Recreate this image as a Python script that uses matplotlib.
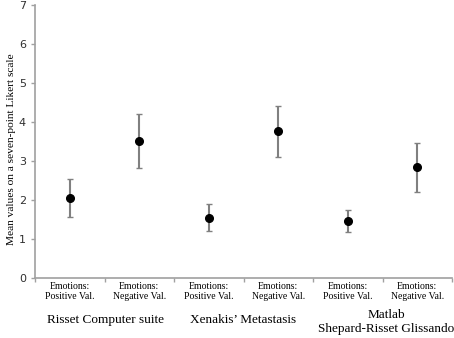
import numpy as np
import matplotlib.pyplot as plt
from matplotlib.transforms import blended_transform_factory

# data
conditions = ['Emotions:\nPositive Val.', 'Emotions:\nNegative Val.'] * 3
means = [2.04, 3.50, 1.54, 3.77, 1.45, 2.85]
upper = [2.53, 4.20, 1.90, 4.41, 1.74, 3.47]
lower = [1.56, 2.81, 1.20, 3.11, 1.18, 2.21]
groups = ['Risset Computer suite', 'Xenakis\u2019 Metastasis', 'Matlab\nShepard-Risset Glissando']

x = np.arange(len(means))
m = np.array(means)
yerr = [m - np.array(lower), np.array(upper) - m]

fig = plt.figure(figsize=(4.54, 3.38), dpi=100)
ax = fig.add_axes([35/454, 60.3/338, 417/454, 272.5/338])

ax.errorbar(x, m, yerr=yerr, fmt='o', color='black', ms=5.5,
            ecolor='#808080', elinewidth=1.5, capsize=2, capthick=1)

ax.set_xlim(-0.5, 5.5)
ax.set_ylim(0, 7)
ax.set_yticks(range(8))
ax.tick_params(axis='y', labelsize=8, labelcolor='#303030', color='#a0a0a0',
               length=3, width=1)
ax.set_xticks(x)
ax.set_xticklabels(conditions, family='Liberation Serif', fontsize=7)
ax.tick_params(axis='x', which='major', length=0, pad=3)
ax.set_xticks(np.arange(-0.5, 6, 1), minor=True)
ax.tick_params(axis='x', which='minor', length=3, color='#a0a0a0', width=1)

for s in ['top', 'right']:
    ax.spines[s].set_visible(False)
for s in ['left', 'bottom']:
    ax.spines[s].set_color('#a0a0a0')
    ax.spines[s].set_linewidth(1.2)

ax.set_ylabel('Mean values on a seven-point Likert scale',
              family='Liberation Serif', fontsize=8.2)
ax.yaxis.set_label_coords(-0.045, 0.47)

trans = blended_transform_factory(ax.transData, fig.transFigure)
group_x = [0.51, 2.49, 4.55]
group_y = [1 - 320/338, 1 - 320/338, 1 - 322/338]
for gx, gy, g in zip(group_x, group_y, groups):
    ax.text(gx, gy, g, transform=trans, ha='center', va='center',
            family='Liberation Serif', fontsize=9.5, linespacing=1.15)

fig.savefig('out.png', dpi=100)
